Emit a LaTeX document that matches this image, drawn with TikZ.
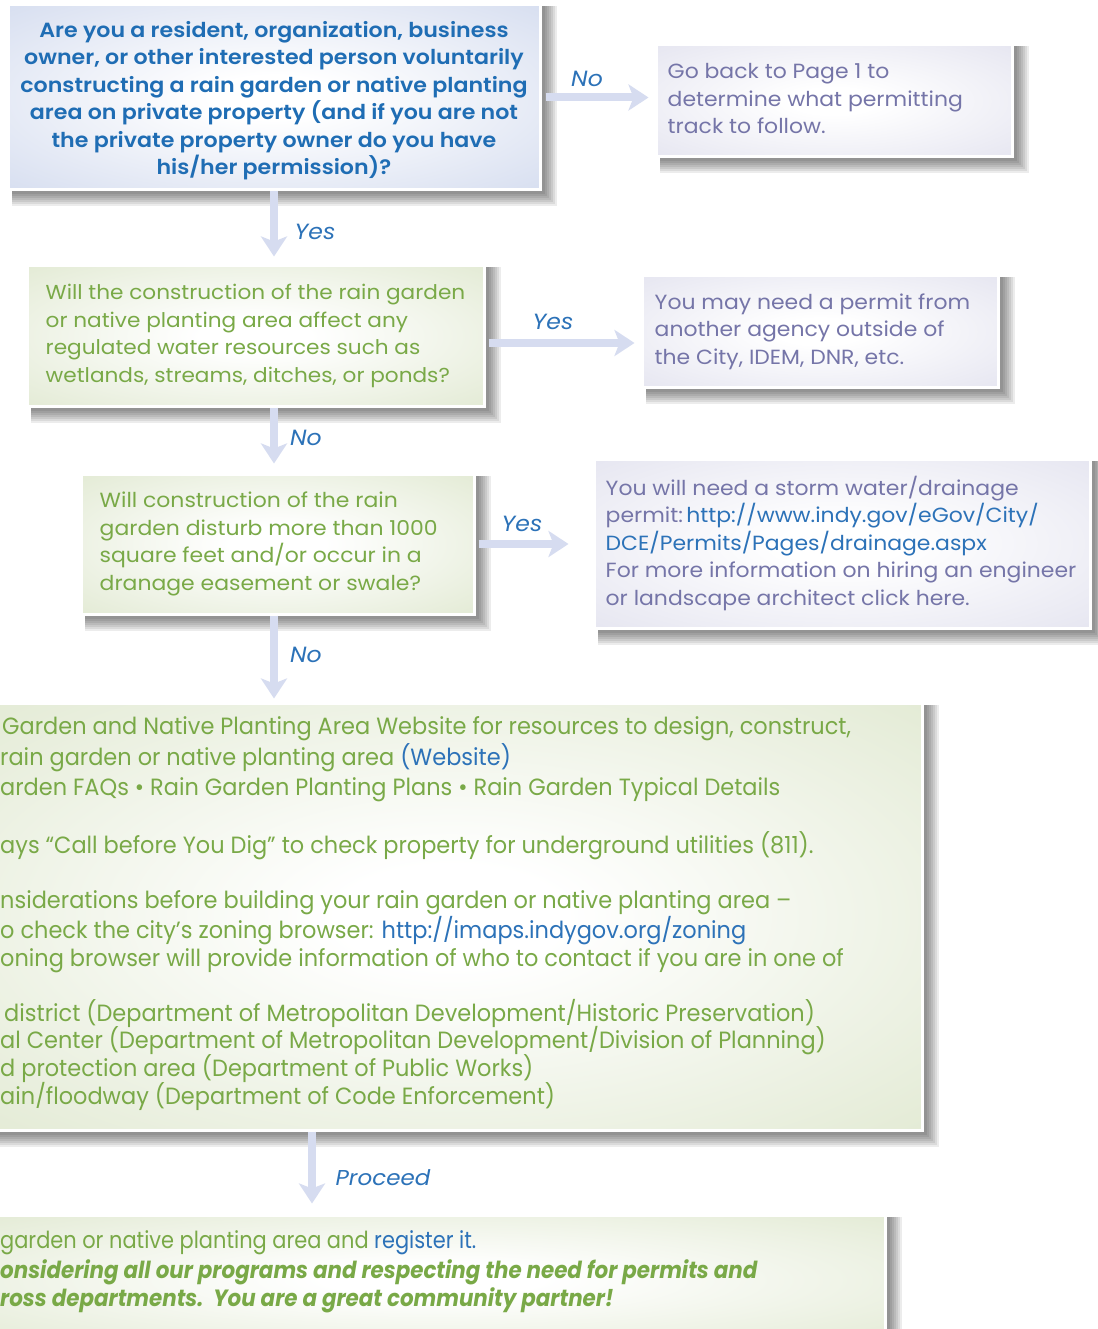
\documentclass[tikz,border=0pt]{standalone}
\usepackage{fontspec}
\setmainfont{Poppins}[FakeStretch=1.07]
\newfontfamily\semibfont{Poppins SemiBold}[FakeStretch=1.08]
\newfontfamily\narrowfont{Poppins}[FakeStretch=0.955]
\newfontfamily\narrowbfont{Poppins}[FakeStretch=0.911]
\newfontfamily\narrowcfont{Poppins}[FakeStretch=0.89]
\usetikzlibrary{arrows.meta,calc,backgrounds}
\definecolor{tblue}{HTML}{1F6DB4}
\definecolor{lblue}{HTML}{2C72B8}
\definecolor{tgreen}{HTML}{79A947}
\definecolor{tgray}{HTML}{7575A8}
\definecolor{arrowc}{HTML}{D6DCF0}
\definecolor{eblue}{HTML}{C4CFE9}
\definecolor{egray}{HTML}{DADAEA}
\definecolor{egreen}{HTML}{D6E1C1}
\pgfdeclareradialshading{glowblue}{\pgfpointorigin}{color(0bp)=(white); color(6bp)=(white); color(50bp)=(eblue); color(72bp)=(eblue)}
\pgfdeclareradialshading{glowgray}{\pgfpointorigin}{color(0bp)=(white); color(6bp)=(white); color(50bp)=(egray); color(72bp)=(egray)}
\pgfdeclareradialshading{glowgreen}{\pgfpointorigin}{color(0bp)=(white); color(6bp)=(white); color(50bp)=(egreen); color(72bp)=(egreen)}
\begin{document}
\begin{tikzpicture}[x=1pt,y=-1pt,
  box/.style={draw=white, line width=3pt, inner sep=0pt},
  bluebox/.style={box, shading=glowblue},
  graybox/.style={box, shading=glowgray},
  greenbox/.style={box, shading=glowgreen},
  boxtxt/.style={inner sep=0pt, align=left, font=\fontsize{20.5}{27.5}\selectfont},
  flow/.style={draw=arrowc, line width=8pt, -{Stealth[length=20pt,width=26pt,inset=5pt]}},
  lbl/.style={font=\fontsize{22}{24}\selectfont\itshape, text=lblue, inner sep=0pt},
  bigline/.style={anchor=base west, inner sep=0pt, text=tgreen, font=\narrowfont\fontsize{23.5}{26}\selectfont}
]
\useasboundingbox (0,0) rectangle (1097,1329);
\clip (0,0) rectangle (1097,1329);

% boxes
\node[bluebox, minimum width=532pt, minimum height=185pt] (q1) at (274,97.5) {};
\node[graybox, minimum width=356pt, minimum height=112pt] (q2) at (834,101) {};
\node[greenbox, minimum width=457pt, minimum height=140pt] (q3) at (255.5,336) {};
\node[graybox, minimum width=356pt, minimum height=111pt] (q4) at (820,331.5) {};
\node[greenbox, minimum width=393pt, minimum height=140pt] (q5) at (277.5,544) {};
\node[graybox, minimum width=496pt, minimum height=169pt] (q6) at (842,543.5) {};
\node[greenbox, minimum width=942pt, minimum height=427pt] (q7) at (451,916.5) {};
\node[greenbox, minimum width=905pt, minimum height=130pt] (q8) at (432.5,1280) {};

% shadows
\begin{scope}[on background layer]
\fill[white] (0,0) rectangle (1097,1329);
\foreach \n in {q1,q2,q3,q4,q5,q6,q7,q8}{
  \foreach \k in {3,5,7,9,11,13,15}{
    \fill[black,opacity=0.075] ($(\n.north west)+(5,3)$) rectangle ($(\n.south east)+(\k,\k)$);
  }}
\end{scope}

% box texts
\node[boxtxt, align=center, text=tblue, font=\semibfont\fontsize{20.5}{27.5}\selectfont] (q1t) at ([yshift=-3pt]q1.center) {Are you a resident, organization, business\\ owner, or other interested person voluntarily\\ constructing a rain garden or native planting\\ area on private property (and if you are not\\ the private property owner do you have\\ his/her permission)?};
\node[boxtxt, anchor=west, text=tgray] (q2t) at ([xshift=13pt,yshift=2pt]q2.west) {Go back to Page 1 to\\ determine what permitting\\ track to follow.};
\node[boxtxt, anchor=west, text=tgreen, font=\fontsize{20.2}{27.5}\selectfont] (q3t) at ([xshift=20pt]q3.west) {Will the construction of the rain garden\\ or native planting area affect any\\ regulated water resources such as\\ wetlands, streams, ditches, or ponds?};
\node[boxtxt, anchor=west, text=tgray] (q4t) at ([xshift=14pt]q4.west) {You may need a permit from\\ another agency outside of\\ the City, IDEM, DNR, etc.};
\node[boxtxt, anchor=west, text=tgreen] (q5t) at ([xshift=20pt]q5.west) {Will construction of the rain\\ garden disturb more than 1000\\ square feet and/or occur in a\\ dranage easement or swale?};
\node[boxtxt, anchor=west, text=tgray] (q6t) at ([xshift=13pt]q6.west) {You will need a storm water/drainage\\ permit:\,{\color{lblue}http://www.indy.gov/eGov/City/}\\ {\color{lblue}DCE/Permits/Pages/drainage.aspx}\\ For more information on hiring an engineer\\ or landscape architect click here.};

% big box lines
\node[bigline] (l1) at (2,734) {Garden and Native Planting Area Website for resources to design, construct,};
\node[bigline] (l2) at (0,765) {rain garden or native planting area {\color{lblue}(Website)}};
\node[bigline] (l3) at (0,795) {arden FAQs • Rain Garden Planting Plans • Rain Garden Typical Details};
\node[bigline] (l4) at (0,853) {ays “Call before You Dig” to check property for underground utilities (811).};
\node[bigline] (l5) at (0,908) {nsiderations before building your rain garden or native planting area –};
\node[bigline] (l6) at (0,938) {o check the city’s zoning browser: {\color{lblue}http://imaps.indygov.org/zoning}};
\node[bigline] (l7) at (0,966) {oning browser will provide information of who to contact if you are in one of};
\node[bigline] (l8) at (4,1021) {district (Department of Metropolitan Development/Historic Preservation)};
\node[bigline] (l9) at (0,1048) {al Center (Department of Metropolitan Development/Division of Planning)};
\node[bigline] (l10) at (0,1076) {d protection area (Department of Public Works)};
\node[bigline] (l11) at (0,1104) {ain/floodway (Department of Code Enforcement)};

% last box lines
\node[bigline, font=\narrowcfont\fontsize{23.5}{26}\selectfont] (m1) at (0,1248) {garden or native planting area and {\color{lblue}register it.}};
\node[bigline, font=\narrowbfont\bfseries\itshape\fontsize{23.5}{26}\selectfont] (m2) at (0,1278) {onsidering all our programs and respecting the need for permits and};
\node[bigline, font=\narrowbfont\bfseries\itshape\fontsize{23.5}{26}\selectfont] (m3) at (0,1306) {ross departments.\ \ You are a great community partner!};

% connectors
\coordinate (a3) at ([yshift=-7pt]q3.east);
\coordinate (pc) at (312,1130);
\draw[flow, shorten <=4pt, shorten >=6pt] (q1.east) -- (q1.east -| q2.west);
\draw[flow, shorten >=8pt] (q1.south) -- (q1.south |- q3.north);
\draw[flow, shorten <=3pt, shorten >=6pt] (a3) -- (a3 -| q4.west);
\draw[flow, shorten >=9pt] (q3.south -| q1.south) -- (q5.north -| q1.south);
\draw[flow, shorten <=3pt, shorten >=24pt] (q5.east) -- (q5.east -| q6.west);
\draw[flow, shorten >=3pt] (q5.south -| q1.south) -- (q7.north -| q1.south);
\draw[flow, shorten >=10pt] (q7.south -| pc) -- (q8.north -| pc);

% labels
\node[lbl] (n1) at (587,79) {No};
\node[lbl] (y1) at (315,232) {Yes};
\node[lbl] (y2) at (553,322) {Yes};
\node[lbl] (n2) at (306,438) {No};
\node[lbl] (y3) at (522,524) {Yes};
\node[lbl] (n3) at (306,655) {No};
\node[lbl, font=\fontsize{21.5}{26}\selectfont\itshape] (p1) at (383,1178) {Proceed};
\end{tikzpicture}
\end{document}
